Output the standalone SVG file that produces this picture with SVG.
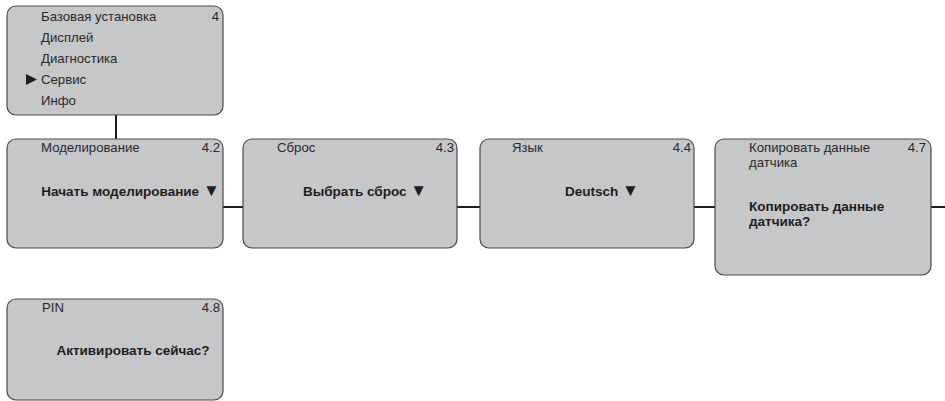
<svg xmlns="http://www.w3.org/2000/svg" width="945" height="401" viewBox="0 0 945 401">
<style>
.box{fill:#c6c7c9;stroke:#4a4a4a;stroke-width:1.2}
.t{font-family:"Liberation Sans",Arial,sans-serif;font-size:13.2px;fill:#2a2a2a}
.b{font-family:"Liberation Sans",Arial,sans-serif;font-size:13.5px;font-weight:bold;fill:#1e1e1e}
.tri{font-size:17px}
.r{text-anchor:end}
.m{text-anchor:middle}
.c{stroke:#1e1e1e;stroke-width:2;fill:none}
</style>
<g id="connectors">
<line class="c" x1="116" y1="115" x2="116" y2="139"/>
<line class="c" x1="223" y1="207" x2="243" y2="207"/>
<line class="c" x1="457" y1="207" x2="480" y2="207"/>
<line class="c" x1="694" y1="207" x2="715" y2="207"/>
<line class="c" x1="931" y1="207" x2="945" y2="207"/>
</g>
<g id="menu">
<rect class="box" x="7" y="6" width="216" height="109" rx="9"/>
<text class="t" x="41" y="21">Базовая установка</text>
<text class="t r" x="219" y="21">4</text>
<text class="t" x="41" y="42">Дисплей</text>
<text class="t" x="41" y="63">Диагностика</text>
<polygon points="26,74 37,79.5 26,85" fill="#1e1e1e"/>
<text class="t" x="41" y="84">Сервис</text>
<text class="t" x="41" y="105">Инфо</text>
</g>
<g id="simulation">
<rect class="box" x="7" y="139" width="216" height="109" rx="9"/>
<text class="t" x="41" y="152">Моделирование</text>
<text class="t r" x="220" y="152">4.2</text>
<text class="b m" x="130.5" y="196">Начать моделирование <tspan class="tri">▼</tspan></text>
</g>
<g id="reset">
<rect class="box" x="243" y="139" width="214" height="109" rx="9"/>
<text class="t" x="277" y="152">Сброс</text>
<text class="t r" x="454" y="152">4.3</text>
<text class="b m" x="365" y="196">Выбрать сброс <tspan class="tri">▼</tspan></text>
</g>
<g id="language">
<rect class="box" x="480" y="139" width="214" height="109" rx="9"/>
<text class="t" x="512" y="152">Язык</text>
<text class="t r" x="691" y="152">4.4</text>
<text class="b m" x="602" y="196">Deutsch <tspan class="tri">▼</tspan></text>
</g>
<g id="copy">
<rect class="box" x="715" y="139" width="216" height="136" rx="9"/>
<text class="t" x="749" y="152">Копировать данные</text>
<text class="t" x="749" y="167">датчика</text>
<text class="t r" x="926" y="152">4.7</text>
<text class="b" x="749" y="211">Копировать данные</text>
<text class="b" x="749" y="226">датчика?</text>
</g>
<g id="pin">
<rect class="box" x="7" y="299" width="216" height="101" rx="9"/>
<text class="t" x="42" y="312">PIN</text>
<text class="t r" x="220" y="312">4.8</text>
<text class="b m" x="133" y="355">Активировать сейчас?</text>
</g>
</svg>
